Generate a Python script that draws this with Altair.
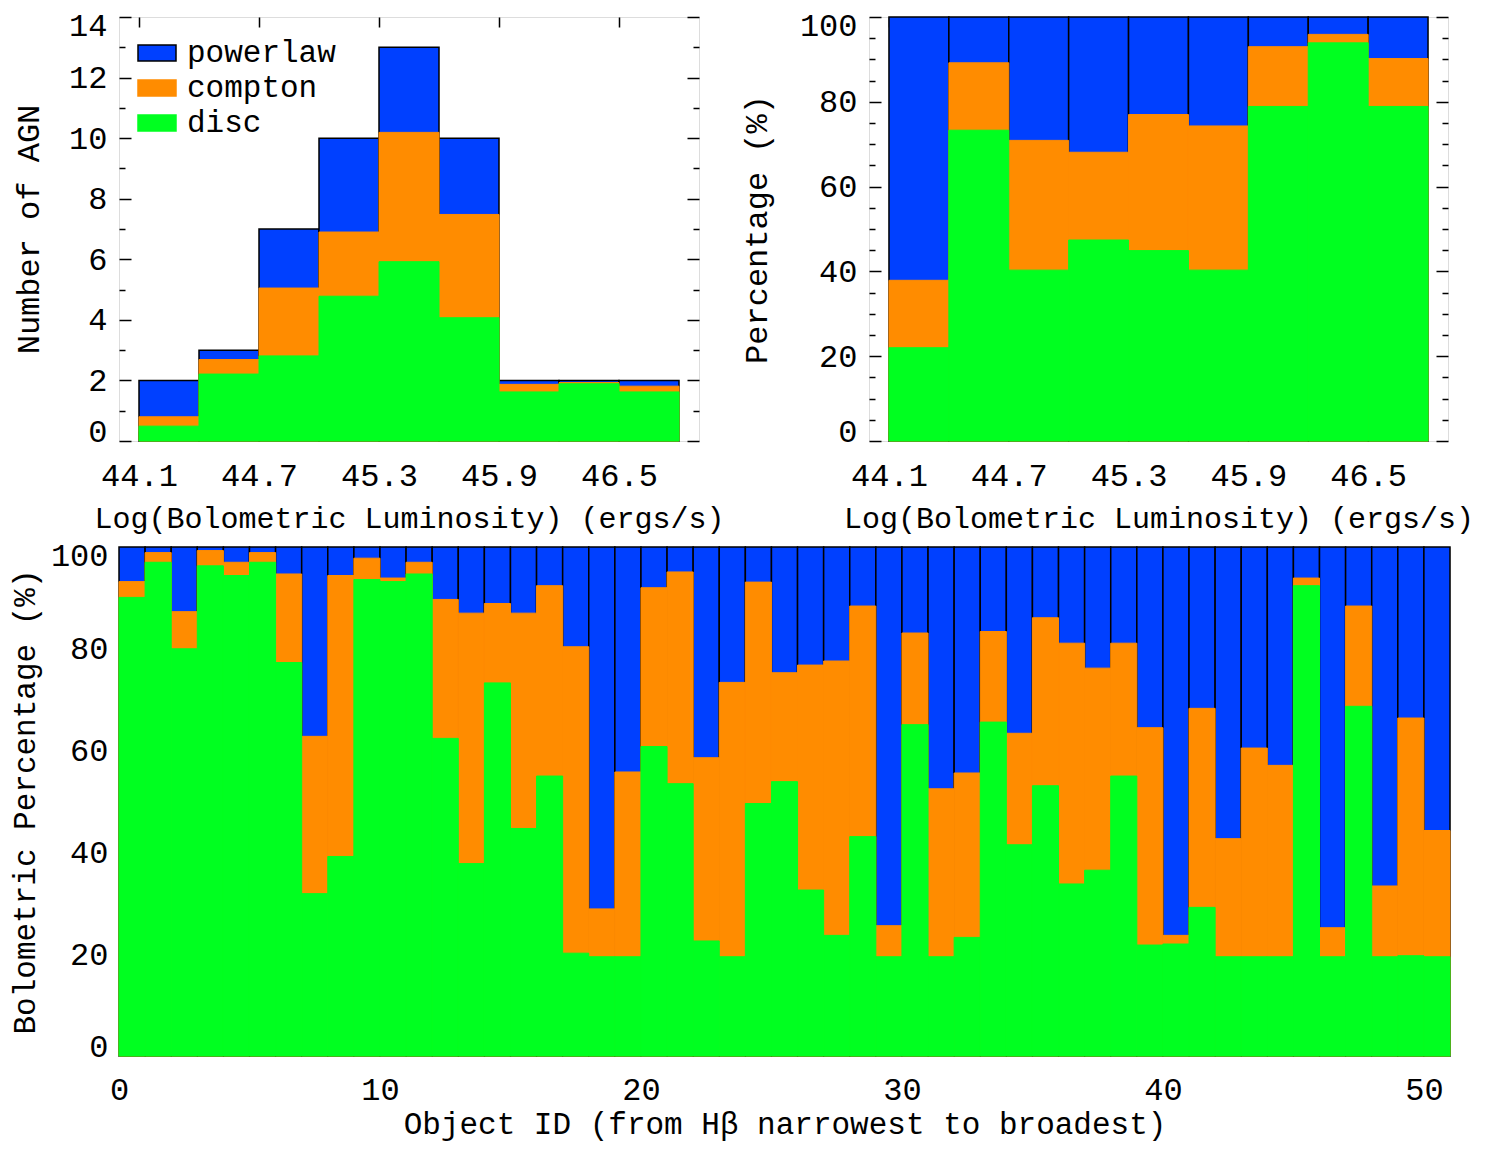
import altair as alt
import pandas as pd

# ---------------- data ----------------
COMPONENTS = ["powerlaw", "compton", "disc"]
COLORS = ["#0040ff", "#ff8c00", "#00ff20"]
OUTLINES = ["black", "#ff8c00", "#00ff20"]

# luminosity bins (log erg/s), edges
lum_edges = [44.1, 44.4, 44.7, 45.0, 45.3, 45.6, 45.9, 46.2, 46.5, 46.8]
lum_ticks = [44.1, 44.7, 45.3, 45.9, 46.5]

# number of AGN per bin, split by component
cnt_disc = [0.49, 2.21, 2.81, 4.78, 5.92, 4.07, 1.62, 1.89, 1.62]
cnt_compton = [0.31, 0.48, 2.24, 2.12, 4.27, 3.41, 0.25, 0.04, 0.19]
cnt_powerlaw = [1.20, 0.31, 1.95, 3.10, 2.81, 2.52, 0.13, 0.07, 0.19]

# percentage per bin
pct_disc = [22.0, 73.3, 40.3, 47.4, 44.9, 40.3, 78.9, 93.9, 78.9]
pct_compton = [15.9, 15.9, 30.6, 20.7, 32.1, 34.0, 14.1, 2.0, 11.3]
pct_powerlaw = [62.1, 10.8, 29.1, 31.9, 23.0, 25.7, 7.0, 4.1, 9.8]

# per-object bolometric percentage (object 0..50)
obj_disc = [90.1, 97.0, 80.0, 96.3, 94.4, 97.0, 77.3, 31.9, 39.2, 93.6,
            93.2, 94.7, 62.4, 37.8, 73.3, 44.7, 55.0, 20.2, 19.5, 19.5,
            60.8, 53.5, 22.6, 19.5, 49.6, 53.9, 32.6, 23.7, 43.1, 19.5,
            65.1, 19.5, 23.3, 65.6, 41.5, 53.1, 33.8, 36.5, 55.0, 21.8,
            22.0, 29.2, 19.5, 19.5, 19.5, 92.4, 19.5, 68.7, 19.5, 19.7,
            19.5]
obj_compton = [3.1, 1.9, 7.3, 3.0, 2.6, 1.9, 17.4, 30.9, 55.2, 4.2,
               0.7, 2.3, 27.3, 49.2, 15.6, 42.3, 37.4, 60.2, 9.4, 36.3,
               31.2, 41.6, 36.0, 53.9, 43.5, 21.4, 44.2, 53.9, 45.3, 6.1,
               18.0, 33.0, 32.3, 17.8, 21.9, 33.0, 47.3, 39.7, 26.1, 42.7,
               1.7, 39.1, 23.2, 41.0, 37.6, 1.5, 5.7, 19.7, 13.9, 46.7,
               24.8]
obj_powerlaw = [6.8, 1.1, 12.7, 0.7, 3.0, 1.1, 5.3, 37.2, 5.6, 2.2,
                6.1, 3.0, 10.3, 13.0, 11.1, 13.0, 7.6, 19.6, 71.1, 44.2,
                8.0, 4.9, 41.4, 26.6, 6.9, 24.7, 23.2, 22.4, 11.6, 74.4,
                16.9, 47.5, 44.4, 16.6, 36.6, 13.9, 18.9, 23.8, 18.9, 35.5,
                76.3, 31.7, 57.3, 39.5, 42.9, 6.1, 74.8, 11.6, 66.6, 33.6,
                55.7]
obj_ticks = [0, 10, 20, 30, 40, 50]

# ---------------- helpers ----------------
FONT = "Liberation Mono"
LBL = 32


def stack_frame(x0, x1, disc, compton, power):
    rows = []
    for a, b, d, c, p in zip(x0, x1, disc, compton, power):
        lvl_d = d
        lvl_c = d + c
        lvl_p = d + c + p
        rows.append(dict(x0=a, x1=b, comp="powerlaw", top=lvl_p, zero=0))
        rows.append(dict(x0=a, x1=b, comp="compton", top=lvl_c, zero=0))
        rows.append(dict(x0=a, x1=b, comp="disc", top=lvl_d, zero=0))
    return pd.DataFrame(rows)


color_scale = alt.Scale(domain=COMPONENTS, range=COLORS)
stroke_scale = alt.Scale(domain=COMPONENTS, range=OUTLINES)


def panel(df, xdom, ydom, xvals, yvals, ymajor, xfmt, xtitle, ytitle,
          W, H, ylabpad, ytitpad, xlabpad, xtitpad, xtsize=30, ytsize=32,
          legend=None, ticks=True):
    ymin, ymax = ydom
    xaxis = alt.Axis(values=xvals, format=xfmt, ticks=False, domain=False,
                     grid=ticks, gridColor="black", gridOpacity=1, gridWidth=1.5,
                     gridDash=[10, H - 20, 10, 0],
                     labelFont=FONT, labelFontSize=LBL, labelPadding=xlabpad,
                     labelColor="black", labelFlush=False,
                     title=xtitle, titleFont=FONT, titleFontSize=xtsize,
                     titleFontWeight="normal", titlePadding=xtitpad,
                     titleColor="black")
    yaxis = alt.Axis(
        values=yvals, format="d", ticks=False, domain=False, labelFlush=False,
        labelExpr=f"datum.value % {ymajor} == 0 ? datum.label : ''",
        labelBaseline={"condition": [
            {"test": f"datum.value >= {ymax}", "value": "line-top"},
            {"test": f"datum.value <= {ymin}", "value": "alphabetic"}],
            "value": "middle"},
        labelLineHeight=17,
        grid=ticks, gridColor="black", gridOpacity=1, gridWidth=1.5,
        gridDash={"condition": {"test": f"datum.value % {ymajor} != 0",
                                "value": [6, W - 12, 6, 0]},
                  "value": [12, W - 24, 12, 0]},
        labelFont=FONT, labelFontSize=LBL, labelPadding=ylabpad,
        labelColor="black",
        title=ytitle, titleFont=FONT, titleFontSize=ytsize,
        titleFontWeight="normal", titlePadding=ytitpad,
        titleColor="black")
    xs = alt.Scale(domain=xdom, nice=False, zero=False)
    ys = alt.Scale(domain=ydom, nice=False)
    base = alt.Chart(df).encode(
        x=alt.X("x0:Q", scale=xs, axis=xaxis),
        x2="x1:Q",
        y=alt.Y("top:Q", scale=ys, axis=yaxis),
        y2="zero:Q",
        color=alt.Color("comp:N", scale=color_scale, legend=legend),
        stroke=alt.Stroke("comp:N", scale=stroke_scale, legend=legend),
    )
    blue = base.transform_filter(alt.datum.comp == "powerlaw").mark_bar(
        strokeWidth=1.5)
    orange = base.transform_filter(alt.datum.comp == "compton").mark_bar(
        strokeWidth=1)
    green = base.transform_filter(alt.datum.comp == "disc").mark_bar(
        strokeWidth=1)
    return alt.layer(blue, orange, green).properties(width=W, height=H)


legend = alt.Legend(orient="none", legendX=18, legendY=16, title=None,
                    symbolType="M-1,-0.42H1V0.42H-1Z", symbolSize=1444,
                    symbolStrokeWidth=1.5,
                    labelFont=FONT, labelFontSize=31, labelColor="black",
                    labelOffset=10, rowPadding=-2, padding=0)

df_cnt = stack_frame(lum_edges[:-1], lum_edges[1:], cnt_disc, cnt_compton, cnt_powerlaw)
df_pct = stack_frame(lum_edges[:-1], lum_edges[1:], pct_disc, pct_compton, pct_powerlaw)
df_obj = stack_frame(list(range(51)), list(range(1, 52)), obj_disc, obj_compton, obj_powerlaw)

xtitle_lum = "Log(Bolometric Luminosity) (ergs/s)"

tl = panel(df_cnt, [44.0, 46.9], [0, 14], lum_ticks,
           [v / 2 for v in range(0, 29)], 2,
           ".1f", xtitle_lum, "Number of AGN",
           580, 424, 12, 23, 19, 12, legend=legend)
tr = panel(df_pct, [44.0, 46.9], [0, 100], lum_ticks,
           list(range(0, 101, 5)), 20,
           ".1f", xtitle_lum, "Percentage (%)",
           579, 424, 12, 26, 19, 12, legend=None)
bot = panel(df_obj, [0, 51], [0, 100], obj_ticks,
            list(range(0, 101, 20)), 20,
            "d", "Object ID (from H\u03b2 narrowest to broadest)",
            "Bolometric Percentage (%)",
            1331, 509, 11, 9, 18, 4, xtsize=31, ytsize=31,
            legend=None, ticks=False)

chart = alt.vconcat(
    alt.hconcat(tl, tr, spacing=14),
    bot, spacing=4
).properties(
    padding={"left": 0, "top": 0, "right": 0, "bottom": 4}
).configure_view(
    stroke="black", strokeWidth=2
).configure(
    background="white"
)

chart.save("out.html", embed_options={"renderer": "svg", "actions": False})
